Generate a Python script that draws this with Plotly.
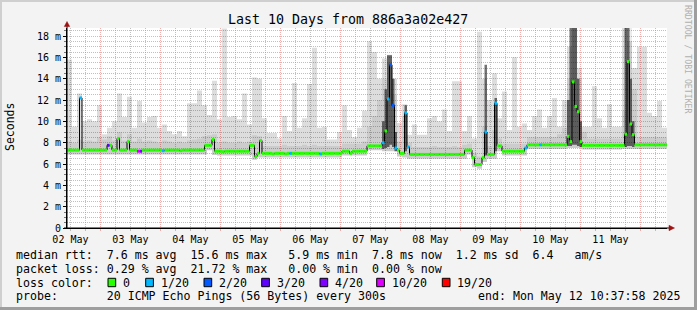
import plotly.graph_objects as go
from datetime import datetime, timedelta

# ---------------- data ----------------
START = datetime(2025, 5, 2, 10, 37, 58)
END = START + timedelta(days=10)

# median rtt (ms), one value per hour (240 hours)
median_ms = [
    7.3, 7.3, 7.3, 7.3, 7.3, 12.2, 7.3, 7.3, 7.3, 7.3, 7.3, 7.3,
    7.3, 7.3, 7.3, 7.3, 7.75, 7.75, 7.3, 7.3, 8.4, 7.3, 7.3, 7.3,
    8.1, 7.3, 7.3, 7.3, 7.2, 7.2, 7.3, 7.3, 7.3, 7.3, 7.3, 7.3,
    7.3, 7.3, 7.25, 7.3, 7.3, 7.3, 7.3, 7.3, 7.3, 7.25, 7.3, 7.3,
    7.3, 7.3, 7.3, 7.3, 7.3, 7.3, 7.3, 7.75, 7.75, 7.75, 8.3, 7.2,
    7.2, 7.2, 7.15, 7.2, 7.2, 7.2, 7.2, 7.2, 7.2, 7.2, 7.2, 7.2,
    7.2, 7.75, 7.75, 6.7, 7.0, 8.2, 7.0, 7.0, 7.0, 7.0, 6.95, 7.0,
    7.0, 7.0, 7.0, 6.95, 7.0, 7.0, 7.0, 7.0, 7.0, 7.0, 7.0, 7.0,
    7.0, 7.0, 7.0, 7.0, 7.0, 6.95, 7.0, 7.0, 7.0, 7.0, 7.0, 7.0,
    7.0, 7.0, 7.2, 7.2, 7.2, 7.0, 7.2, 7.2, 7.2, 7.2, 7.2, 7.2,
    7.7, 7.7, 7.7, 7.7, 7.7, 7.7, 8.0, 9.1, 12.1, 15.3, 11.5, 7.5,
    7.3, 7.0, 7.0, 10.8, 7.6, 6.9, 6.9, 6.9, 6.9, 6.9, 6.9, 6.9,
    6.9, 6.9, 6.9, 6.9, 6.9, 6.9, 6.9, 6.9, 6.9, 6.9, 6.9, 6.9,
    6.9, 6.9, 6.9, 7.3, 7.3, 7.3, 6.6, 5.95, 5.95, 5.95, 6.6, 9.0,
    6.9, 6.9, 6.9, 11.7, 7.7, 7.7, 7.2, 7.2, 7.2, 7.2, 7.2, 7.2,
    7.2, 7.2, 7.2, 7.5, 7.8, 7.8, 7.8, 7.8, 7.8, 7.8, 7.8, 7.8,
    7.8, 7.8, 7.8, 7.8, 7.8, 7.8, 7.8, 7.8, 8.6, 8.1, 13.7, 11.4,
    10.9, 8.1, 7.75, 7.75, 7.75, 7.75, 7.75, 7.75, 7.75, 7.75, 7.75, 7.75,
    7.75, 7.75, 7.75, 7.75, 7.75, 7.75, 7.75, 8.8, 15.6, 9.75, 8.75, 7.8,
    7.8, 7.8, 7.8, 7.8, 7.8, 7.8, 7.8, 7.8, 7.8, 7.8, 7.8, 7.8,
]

# hour index -> packet-loss class (index into loss_labels); others are 0
loss_hours = [5, 16, 28, 29, 38, 89, 101, 126, 128, 129, 130, 131, 135, 136, 167, 171, 183, 189]
loss_class = [1, 3, 5, 4, 1, 1, 1, 1, 1, 2, 2, 1, 1, 1, 1, 1, 1, 1]

loss_labels = ["0", "1/20", "2/20", "3/20", "4/20", "10/20", "19/20"]
loss_colors = ["#26ff00", "#00b8ff", "#0059ff", "#5e00ff", "#7e00ff", "#dd00ff", "#ff0000"]

# smoke (ms), one value per 2 hours (120 bins)
smoke_max = [
    15.8, 9.5, 12.6, 10.0, 10.2, 10.0, 11.5, 8.8, 9.4, 10.0, 12.6, 10.4, 12.3, 9.4, 11.9,
    9.9, 10.4, 10.5, 9.4, 9.7, 9.1, 8.8, 9.1, 8.6, 11.7, 11.7, 12.9, 11.5, 10.6, 13.8,
    10.2, 18.7, 10.4, 10.5, 10.2, 12.6, 9.7, 14.1, 14.0, 10.3, 8.9, 8.9, 8.4, 10.5, 9.1,
    13.6, 9.4, 10.3, 13.5, 16.9, 9.4, 9.5, 8.3, 8.3, 9.0, 11.5, 9.2, 8.5, 9.4, 11.0,
    17.5, 16.5, 14.0, 15.9, 16.25, 14.0, 9.84, 11.6, 8.75, 9.7, 8.75, 8.75, 10.3, 10.5, 10.0,
    11.1, 9.1, 13.75, 13.75, 9.1, 10.5, 8.4, 18.4, 14.0, 12.0, 14.5, 10.3, 12.8, 9.2, 16.0,
    9.5, 9.8, 9.2, 10.5, 11.1, 9.4, 10.5, 12.2, 9.5, 12.0, 17.0, 18.75, 15.0, 9.5, 9.5,
    13.3, 10.3, 9.4, 11.6, 9.5, 9.5, 18.75, 17.5, 15.0, 17.0, 17.0, 10.8, 10.5, 11.9, 9.4,
]
smoke_mid = [
    8.1, 8.0, 8.3, 8.1, 8.2, 8.1, 8.5, 8.3, 8.6, 8.2, 9.0, 8.2, 8.8, 8.1, 8.4,
    8.1, 8.2, 8.1, 8.0, 8.2, 8.1, 8.0, 8.1, 8.0, 8.2, 8.3, 8.4, 8.6, 8.7, 8.8,
    8.0, 8.1, 8.0, 8.0, 8.1, 8.0, 8.1, 8.7, 8.6, 7.7, 7.7, 7.7, 7.7, 7.8, 7.7,
    7.7, 7.7, 7.8, 7.7, 7.8, 7.7, 7.7, 7.7, 7.7, 7.7, 7.9, 7.9, 7.9, 7.9, 8.1,
    9.5, 10.5, 12.0, 14.0, 15.5, 12.5, 8.1, 10.5, 8.0, 7.6, 7.6, 7.6, 7.6, 7.7, 7.6,
    7.6, 7.6, 7.7, 7.6, 7.8, 7.9, 7.0, 6.7, 9.5, 7.7, 9.2, 8.4, 7.9, 7.9, 7.9,
    7.9, 7.9, 8.5, 8.5, 8.5, 8.5, 8.5, 8.5, 8.8, 9.4, 14.0, 18.75, 14.0, 9.0, 8.4,
    8.4, 8.4, 8.4, 8.4, 8.4, 8.4, 11.0, 18.75, 13.0, 8.5, 8.5, 8.5, 8.5, 8.5, 8.5,
]
smoke_min = [
    6.9, 6.9, 6.9, 6.9, 6.9, 6.9, 6.9, 6.9, 6.9, 6.9, 6.9, 6.9, 6.9, 6.9, 6.9,
    6.9, 6.9, 6.9, 6.9, 6.9, 6.9, 6.9, 6.9, 6.9, 6.9, 6.9, 6.9, 6.9, 7.3, 6.85,
    6.8, 6.8, 6.8, 6.8, 6.8, 6.8, 6.8, 6.4, 6.6, 6.6, 6.6, 6.6, 6.6, 6.6, 6.6,
    6.6, 6.6, 6.6, 6.6, 6.6, 6.6, 6.6, 6.6, 6.6, 6.6, 6.8, 6.8, 6.8, 6.8, 6.8,
    7.3, 7.3, 7.3, 7.2, 7.2, 7.2, 6.7, 6.6, 6.5, 6.5, 6.5, 6.5, 6.5, 6.5, 6.5,
    6.5, 6.5, 6.5, 6.5, 6.5, 6.9, 5.7, 5.55, 6.2, 6.5, 6.5, 7.2, 6.8, 6.8, 6.8,
    6.8, 6.8, 7.4, 7.4, 7.4, 7.4, 7.4, 7.4, 7.4, 7.4, 7.5, 7.5, 7.5, 7.35, 7.35,
    7.35, 7.35, 7.35, 7.35, 7.35, 7.35, 7.4, 7.4, 7.4, 7.4, 7.4, 7.4, 7.4, 7.4, 7.4,
]
# dense (dark) smoke around the big spikes, per hour: (hour, low, top) in ms
dark_hours = [126, 127, 128, 129, 130, 131, 135, 167, 171, 200, 201, 202, 203, 204, 205, 223, 224, 225, 226]
dark_low = [7.4, 7.5, 7.6, 7.8, 7.6, 7.2, 7.2, 6.8, 7.2, 7.7, 7.7, 7.8, 7.8, 7.7, 7.6, 7.6, 7.7, 7.7, 7.6]
dark_top = [10.0, 13.0, 16.2, 16.2, 14.0, 9.0, 11.5, 15.3, 12.2, 12.0, 18.75, 18.75, 18.75, 14.0, 10.0,
            18.75, 18.75, 14.0, 10.0]

y_ticks = [0, 2, 4, 6, 8, 10, 12, 14, 16, 18]
y_tick_text = ["0", "2 m", "4 m", "6 m", "8 m", "10 m", "12 m", "14 m", "16 m", "18 m"]

title_text = "Last 10 Days from 886a3a02e427"
legend_lines = [
    "median rtt:  7.6 ms avg  15.6 ms max   5.9 ms min  7.8 ms now  1.2 ms sd  6.4   am/s",
    "packet loss: 0.29 % avg  21.72 % max   0.00 % min  0.00 % now",
]
probe_text = "probe:       20 ICMP Echo Pings (56 Bytes) every 300s"
end_text = "end: Mon May 12 10:37:58 2025"

# ---------------- layout helpers ----------------
W, H = 697, 310
L, R, T, B = 67, 30, 28, 82
PW, PH = W - L - R, H - T - B
MONO = "DejaVu Sans Mono"
Y_TOP = PH / (213.3 / 20)


def PX(x):
    return (x - L) / PW


def PY(y):
    return (T + PH - y) / PH


def nb(s):
    return s.replace(" ", "\u00a0")


fig = go.Figure()

hour_edges = [START + timedelta(hours=i) for i in range(len(median_ms) + 1)]
bin_edges = [START + timedelta(hours=2 * j) for j in range(len(smoke_max) + 1)]


def band(xs, lo, hi, color):
    fig.add_trace(go.Scatter(x=xs, y=lo + [lo[-1]], mode="lines",
                             line=dict(width=0, shape="hv"), hoverinfo="skip", showlegend=False))
    fig.add_trace(go.Scatter(x=xs, y=hi + [hi[-1]], mode="lines",
                             line=dict(width=0, shape="hv"), fill="tonexty", fillcolor=color,
                             hoverinfo="skip", showlegend=False))


# translucent smoke so the dotted grid shows through, as in rrdtool
band(bin_edges, smoke_min, smoke_max, "rgba(0,0,0,0.135)")
band(bin_edges, smoke_min, smoke_mid, "rgba(0,0,0,0.075)")
d_lo = [m for m in median_ms]
d_hi = [m for m in median_ms]
for h, lo, hi in zip(dark_hours, dark_low, dark_top):
    d_lo[h] = lo
    d_hi[h] = hi
band(hour_edges, d_lo, d_hi, "rgba(0,0,0,0.55)")

# median connecting line (thin, black)
fig.add_trace(go.Scatter(x=hour_edges, y=median_ms + [median_ms[-1]], mode="lines",
                         line=dict(color="#000000", width=1, shape="hv"),
                         hoverinfo="skip", showlegend=False))

# loss coloured median segments
loss_of_hour = dict(zip(loss_hours, loss_class))
for k, col in enumerate(loss_colors):
    xs, ys = [], []
    for i, m in enumerate(median_ms):
        if loss_of_hour.get(i, 0) == k:
            xs += [hour_edges[i], hour_edges[i + 1], None]
            ys += [m, m, None]
    if xs:
        fig.add_trace(go.Scatter(x=xs, y=ys, mode="lines",
                                 line=dict(color=col, width=3),
                                 hoverinfo="skip", showlegend=False))

MAJ = "rgba(235,120,120,0.6)"
MIN = "rgba(150,150,150,0.6)"

fig.update_xaxes(
    type="date", range=[START, END], showgrid=True, gridcolor=MAJ, griddash="1px,1px",
    gridwidth=1, dtick=86400000, tick0="2025-05-02 00:00:00", tickformat="%d %b",
    ticklabelmode="period", ticks="outside", ticklen=2, tickcolor=MAJ,
    tickfont=dict(family=MONO, size=10, color="#000000"),
    minor=dict(dtick=21600000, tick0="2025-05-02 00:00:00", showgrid=True, gridcolor=MIN,
               griddash="1px,1px", ticks="outside", ticklen=2, tickcolor=MIN),
    showline=True, linecolor="#000000", linewidth=1, zeroline=False, fixedrange=True,
)
fig.update_yaxes(
    range=[0, Y_TOP], tickmode="array", tickvals=y_ticks, ticktext=y_tick_text,
    showgrid=True, gridcolor=MAJ, griddash="1px,1px", gridwidth=1,
    ticks="outside", ticklen=3, tickcolor="#000000",
    tickfont=dict(family=MONO, size=10, color="#000000"),
    minor=dict(tickmode="array", tickvals=[k * 0.5 for k in range(1, 38) if k % 4],
               showgrid=True, gridcolor=MIN, griddash="1px,1px",
               ticks="outside", ticklen=2, tickcolor="#777777"),
    showline=True, linecolor="#000000", linewidth=1, zeroline=False, fixedrange=True,
)

ann = []
ann.append(dict(text=nb(title_text), x=PX(348), y=PY(19), xref="paper", yref="paper",
                showarrow=False, xanchor="center", yanchor="middle",
                font=dict(family=MONO, size=13.3, color="#000000")))
ann.append(dict(text="Seconds", x=PX(10), y=PY(127), xref="paper", yref="paper",
                showarrow=False, xanchor="center", yanchor="middle", textangle=-90,
                font=dict(family=MONO, size=11.5, color="#000000")))
ann.append(dict(text=nb("RRDTOOL / TOBI OETIKER"), x=PX(688), y=PY(59), xref="paper", yref="paper",
                showarrow=False, xanchor="center", yanchor="middle", textangle=90,
                font=dict(family=MONO, size=8.2, color="#b0b0b0")))
for k, line in enumerate(legend_lines):
    ann.append(dict(text=nb(line), x=PX(14), y=PY(254.5 + 14 * k), xref="paper", yref="paper",
                    showarrow=False, xanchor="left", yanchor="middle",
                    font=dict(family=MONO, size=11.6, color="#000000")))
ann.append(dict(text=nb("loss color:"), x=PX(14), y=PY(282.5), xref="paper", yref="paper",
                showarrow=False, xanchor="left", yanchor="middle",
                font=dict(family=MONO, size=11.6, color="#000000")))
ann.append(dict(text=nb(probe_text), x=PX(14), y=PY(296.3), xref="paper", yref="paper",
                showarrow=False, xanchor="left", yanchor="middle",
                font=dict(family=MONO, size=11.6, color="#000000")))
ann.append(dict(text=nb(end_text), x=PX(682), y=PY(296.3), xref="paper", yref="paper",
                showarrow=False, xanchor="right", yanchor="middle",
                font=dict(family=MONO, size=11.6, color="#000000")))

shapes = []
box_x = [108, 145.7, 204, 261.7, 320, 376.7, 442.3]
for bx, lab, col in zip(box_x, loss_labels, loss_colors):
    shapes.append(dict(type="rect", xref="paper", yref="paper",
                       x0=PX(bx), x1=PX(bx + 7.7), y0=PY(286.7), y1=PY(278.3),
                       fillcolor=col, line=dict(color="#000000", width=1)))
    ann.append(dict(text=nb(lab), x=PX(bx + 13), y=PY(282.5), xref="paper", yref="paper",
                    showarrow=False, xanchor="left", yanchor="middle",
                    font=dict(family=MONO, size=11.6, color="#000000")))

# axis extensions and arrow heads
shapes.append(dict(type="line", xref="paper", yref="paper", x0=PX(67), x1=PX(67),
                   y0=PY(228), y1=PY(24), line=dict(color="#000000", width=1)))
shapes.append(dict(type="line", xref="paper", yref="paper", x0=PX(64), x1=PX(672),
                   y0=PY(228), y1=PY(228), line=dict(color="#000000", width=1)))
shapes.append(dict(type="path", xref="paper", yref="paper",
                   path=f"M {PX(64.3)} {PY(26.5)} L {PX(69.7)} {PY(26.5)} L {PX(67)} {PY(21.5)} Z",
                   fillcolor="#a01010", line=dict(color="#a01010", width=0.5)))
shapes.append(dict(type="path", xref="paper", yref="paper",
                   path=f"M {PX(669)} {PY(225.3)} L {PX(669)} {PY(230.7)} L {PX(674.5)} {PY(228)} Z",
                   fillcolor="#a01010", line=dict(color="#a01010", width=0.5)))
# image frame
shapes.append(dict(type="rect", xref="paper", yref="paper", x0=PX(0), x1=PX(697), y0=PY(0), y1=PY(2),
                   fillcolor="#cfcfcf", line=dict(width=0), layer="below"))
shapes.append(dict(type="rect", xref="paper", yref="paper", x0=PX(0), x1=PX(2), y0=PY(0), y1=PY(310),
                   fillcolor="#cfcfcf", line=dict(width=0), layer="below"))
shapes.append(dict(type="rect", xref="paper", yref="paper", x0=PX(694), x1=PX(697), y0=PY(0), y1=PY(310),
                   fillcolor="#9e9e9e", line=dict(width=0), layer="below"))
shapes.append(dict(type="rect", xref="paper", yref="paper", x0=PX(0), x1=PX(697), y0=PY(307), y1=PY(310),
                   fillcolor="#9e9e9e", line=dict(width=0), layer="below"))

fig.update_layout(
    width=W, height=H, margin=dict(l=L, r=R, t=T, b=B),
    paper_bgcolor="#f3f3f3", plot_bgcolor="#ffffff",
    font=dict(family=MONO, size=10, color="#000000"),
    showlegend=False, hovermode=False,
    annotations=ann, shapes=shapes,
)

fig.write_html("out.html", config={"displayModeBar": False})
